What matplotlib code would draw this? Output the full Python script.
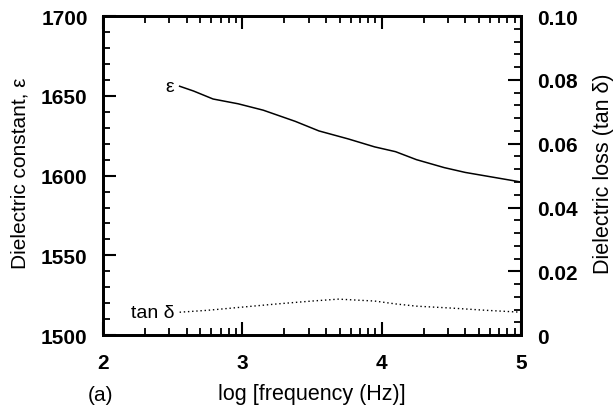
import matplotlib
matplotlib.use("Agg")
import matplotlib.pyplot as plt
import numpy as np
from matplotlib.ticker import MultipleLocator, FixedLocator

plt.rcParams['font.family'] = ['Liberation Sans', 'DejaVu Sans']

# data
log_f = [2.55, 2.65, 2.79, 2.97, 3.15, 3.38, 3.55, 3.76, 3.95, 4.10, 4.25, 4.45, 4.60, 4.80, 5.00]
eps = [1656, 1653, 1648, 1645, 1641, 1634, 1628, 1623, 1618, 1615, 1610, 1605, 1602, 1599, 1596]
log_f_tan = [2.55, 2.75, 3.00, 3.25, 3.50, 3.69, 3.95, 4.10, 4.25, 4.50, 4.75, 5.00]
tan_d = [0.0072, 0.0078, 0.0088, 0.0098, 0.0107, 0.0113, 0.0107, 0.0098, 0.0091, 0.0085, 0.0078, 0.0072]

fig = plt.figure(figsize=(6.15, 4.10), dpi=100)
ax = fig.add_axes([0.1675, 0.180, 0.6795, 0.7785])
ax.plot(log_f, eps, color='black', lw=1.1)
ax.set_xlim(2, 5)
ax.set_ylim(1500, 1700)
ax2 = ax.twinx()
ax2.plot(log_f_tan, tan_d, color='black', lw=1.0, ls=(0, (1, 2)))
ax2.set_ylim(0, 0.10)

ax.set_xticks([2, 3, 4, 5])
minor_x = [d + np.log10(k) for d in (2, 3, 4) for k in range(2, 10)]
ax.xaxis.set_minor_locator(FixedLocator(minor_x))
ax.set_yticks([1500, 1550, 1600, 1650, 1700])
ax.yaxis.set_minor_locator(MultipleLocator(10))
ax2.set_yticks([0, 0.02, 0.04, 0.06, 0.08, 0.10])
ax2.set_yticklabels(['0', '0.02', '0.04', '0.06', '0.08', '0.10'])
ax2.yaxis.set_minor_locator(MultipleLocator(0.004))

ax.tick_params(axis='both', which='major', direction='in', length=9.5, width=1.5, labelsize=15)
ax.tick_params(axis='both', which='minor', direction='in', length=5, width=1.3)
ax.tick_params(axis='x', which='both', top=True)
ax.tick_params(axis='y', which='major', pad=11)
ax.tick_params(axis='x', which='major', pad=13)
ax2.tick_params(axis='y', which='major', direction='in', length=9.5, width=1.5, labelsize=15, pad=12)
ax2.tick_params(axis='y', which='minor', direction='in', length=5, width=1.3)
for a in (ax, ax2):
    for s in a.spines.values():
        s.set_linewidth(2)
    for lab in a.get_yticklabels() + a.get_xticklabels():
        lab.set_fontweight('bold')

ax.set_ylabel('Dielectric constant, ε', fontsize=15)
ax2.set_ylabel('Dielectric loss (tan δ)', fontsize=15.5)
ax.set_xlabel('log [frequency (Hz)]', fontsize=15.5)
ax.yaxis.set_label_coords(-0.177, 0.51)
ax2.yaxis.set_label_coords(1.172, 0.51)
ax.xaxis.set_label_coords(0.5, -0.15)

ax.text(log_f[0] - 0.04, eps[0], 'ε', fontsize=14, ha='right', va='center')
ax2.text(log_f_tan[0] - 0.04, tan_d[0], 'tan δ', fontsize=14, ha='right', va='center')
fig.text(0.163, 0.036, '(a)', fontsize=15, ha='center', va='center')

fig.savefig('out.png', dpi=100)
